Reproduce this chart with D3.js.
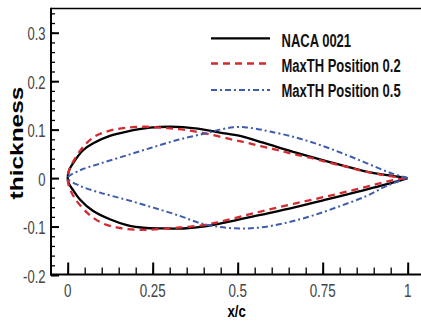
<!DOCTYPE html>
<html>
<head>
<meta charset="utf-8">
<script src="https://cdn.jsdelivr.net/npm/d3@7"></script>
<style>
  html, body { margin: 0; padding: 0; background: #fff; overflow: hidden; }
  svg { display: block; }
</style>
</head>
<body>
<div id="chart"></div>
<script>
// series, [x/c, thickness]
const nacaUpper = [[0,0],[0.004,0.016],[0.016,0.031],[0.046,0.058],[0.075,0.072],[0.124,0.087],[0.174,0.096],[0.242,0.104],[0.30,0.106],[0.34,0.105],[0.40,0.100],[0.448,0.094],[0.507,0.087],[0.575,0.073],[0.674,0.052],[0.771,0.033],[0.869,0.015],[0.94,0.006],[1,0]];
const nacaLower = [[0,0],[0.004,-0.012],[0.016,-0.025],[0.036,-0.044],[0.075,-0.068],[0.124,-0.085],[0.174,-0.097],[0.232,-0.103],[0.30,-0.104],[0.34,-0.104],[0.409,-0.099],[0.468,-0.091],[0.566,-0.076],[0.664,-0.061],[0.762,-0.044],[0.86,-0.027],[0.958,-0.009],[1,0]];
const max02Upper = [[0,0],[0.005,0.018],[0.016,0.034],[0.046,0.065],[0.080,0.086],[0.124,0.098],[0.173,0.104],[0.232,0.106],[0.291,0.103],[0.35,0.099],[0.419,0.090],[0.487,0.079],[0.526,0.073],[0.566,0.066],[0.605,0.060],[0.639,0.054],[0.674,0.048],[0.713,0.042],[0.752,0.035],[0.786,0.029],[0.821,0.023],[0.86,0.016],[0.9,0.010],[0.938,0.005],[1,0]];
const max02Lower = [[0,0],[0.002,-0.012],[0.007,-0.023],[0.026,-0.047],[0.066,-0.077],[0.105,-0.094],[0.154,-0.103],[0.213,-0.107],[0.271,-0.105],[0.33,-0.102],[0.40,-0.097],[0.448,-0.090],[0.516,-0.078],[0.585,-0.066],[0.664,-0.053],[0.742,-0.041],[0.821,-0.028],[0.9,-0.014],[0.958,-0.004],[1,0]];
const max05Upper = [[0,0],[0.036,0.016],[0.095,0.030],[0.174,0.047],[0.252,0.064],[0.33,0.080],[0.409,0.093],[0.448,0.100],[0.487,0.105],[0.52,0.105],[0.56,0.101],[0.595,0.096],[0.654,0.087],[0.713,0.075],[0.771,0.061],[0.83,0.045],[0.889,0.028],[0.948,0.011],[1,0]];
const max05Lower = [[0,0],[0.036,-0.016],[0.095,-0.030],[0.174,-0.045],[0.252,-0.061],[0.33,-0.078],[0.389,-0.093],[0.448,-0.101],[0.507,-0.104],[0.566,-0.102],[0.644,-0.092],[0.722,-0.077],[0.80,-0.058],[0.879,-0.037],[0.938,-0.016],[1,0]];

const seriesNames = ["NACA 0021", "MaxTH Position 0.2", "MaxTH Position 0.5"];
const xTicks = [0, 0.25, 0.5, 0.75, 1];
const xTickLabels = ["0", "0.25", "0.5", "0.75", "1"];
const yTicks = [-0.2, -0.1, 0, 0.1, 0.2, 0.3];
const yTickLabels = ["-0.2", "-0.1", "0", "0.1", "0.2", "0.3"];

const W = 421, H = 322;
const padL = 51, padT = 8.5, axisY = 274.5;
const stretch = 1.36; // text in the picture is taller than wide

const svg = d3.select("#chart").append("svg")
  .attr("width", W)
  .attr("height", H);

const x = d3.scaleLinear().domain([-0.05, 1.05]).range([padL - 0.3, 424.7]);
const y = d3.scaleLinear().domain([-0.2, 0.35]).range([axisY + 0.5, padT]);

// curves
const styles = [
  { color: "#000", dash: null, width: 2.3 },
  { color: "#d42a30", dash: "7,5", width: 2.3 },
  { color: "#3d5cb0", dash: "6,3,2,3", width: 2 }
];
const curves = [
  { up: nacaUpper, lo: nacaLower },
  { up: max02Upper, lo: max02Lower },
  { up: max05Upper, lo: max05Lower }
];

const line = d3.line()
  .x(d => x(d[0]))
  .y(d => y(d[1]))
  .curve(d3.curveCatmullRom.alpha(0.5));

curves.forEach((c, i) => {
  // trailing edge -> upper -> leading edge -> lower -> trailing edge
  const pts = c.up.slice().reverse().concat(c.lo.slice(1));
  svg.append("path")
    .attr("d", line(pts))
    .attr("fill", "none")
    .attr("stroke", styles[i].color)
    .attr("stroke-width", styles[i].width)
    .attr("stroke-dasharray", styles[i].dash);
});

// frame
svg.append("line")
  .attr("x1", padL).attr("x2", W)
  .attr("y1", padT).attr("y2", padT)
  .attr("stroke", "#000").attr("stroke-width", 1.5);

// y axis with inward ticks
const yMinor = d3.range(-0.2, 0.3501, 0.02).map(v => +v.toFixed(2));
svg.append("g")
  .attr("transform", `translate(${padL},0)`)
  .call(d3.axisRight(y).tickValues(yMinor).tickSize(4).tickFormat(""))
  .call(g => g.select(".domain").remove())
  .call(g => g.selectAll("line").attr("stroke", "#000").attr("stroke-width", 1.3));
svg.append("g")
  .attr("transform", `translate(${padL},0)`)
  .call(d3.axisRight(y).tickValues(yTicks).tickSize(8).tickFormat(""))
  .call(g => g.select(".domain").remove())
  .call(g => g.selectAll("line").attr("stroke", "#000").attr("stroke-width", 2));
svg.append("line")
  .attr("x1", padL).attr("x2", padL)
  .attr("y1", padT - 0.75).attr("y2", axisY + 1)
  .attr("stroke", "#000").attr("stroke-width", 2);

// x axis with inward ticks
const xMinor = d3.range(0, 1.0001, 0.05).map(v => +v.toFixed(2));
svg.append("g")
  .attr("transform", `translate(0,${axisY})`)
  .call(d3.axisTop(x).tickValues(xMinor).tickSize(7).tickFormat(""))
  .call(g => g.select(".domain").remove())
  .call(g => g.selectAll("line").attr("stroke", "#000").attr("stroke-width", 1.3));
svg.append("g")
  .attr("transform", `translate(0,${axisY})`)
  .call(d3.axisTop(x).tickValues(xTicks).tickSize(12).tickFormat(""))
  .call(g => g.select(".domain").remove())
  .call(g => g.selectAll("line").attr("stroke", "#000").attr("stroke-width", 2));
svg.append("line")
  .attr("x1", padL - 1).attr("x2", W)
  .attr("y1", axisY).attr("y2", axisY)
  .attr("stroke", "#000").attr("stroke-width", 2);

// tick labels
const tickFont = "'Liberation Sans', Arial, sans-serif";
xTicks.forEach((v, i) => {
  svg.append("text")
    .attr("transform", `translate(${x(v)},296.5) scale(1,1.32)`)
    .attr("text-anchor", "middle")
    .attr("font-family", tickFont)
    .attr("font-size", 13.4)
    .attr("fill", "#444")
    .text(xTickLabels[i]);
});
yTicks.forEach((v, i) => {
  svg.append("text")
    .attr("transform", `translate(45.5,${y(v) + 7.5}) scale(1,${stretch})`)
    .attr("text-anchor", "end")
    .attr("font-family", tickFont)
    .attr("font-size", 13)
    .attr("fill", "#444")
    .text(yTickLabels[i]);
});

// axis titles
svg.append("text")
  .attr("transform", `translate(${x(0.5) - 1},316.5) scale(1,1.25)`)
  .attr("text-anchor", "middle")
  .attr("font-family", tickFont)
  .attr("font-weight", "bold")
  .attr("font-size", 13.2)
  .attr("fill", "#000")
  .text("x/c");

svg.append("text")
  .attr("transform", `translate(22.5,143) scale(1,${stretch}) rotate(-90)`)
  .attr("text-anchor", "middle")
  .attr("font-family", tickFont)
  .attr("font-weight", "bold")
  .attr("font-size", 18)
  .attr("fill", "#000")
  .text("thickness");

// legend
const legY = [38.3, 63.5, 90];
const legBase = [46.7, 71.7, 97.3];
seriesNames.forEach((name, i) => {
  svg.append("line")
    .attr("x1", 211).attr("x2", 270)
    .attr("y1", legY[i]).attr("y2", legY[i])
    .attr("stroke", styles[i].color)
    .attr("stroke-width", styles[i].width)
    .attr("stroke-dasharray", styles[i].dash);
  svg.append("text")
    .attr("transform", `translate(281.5,${legBase[i]}) scale(1,1.42)`)
    .attr("font-family", tickFont)
    .attr("font-weight", "bold")
    .attr("font-size", 13)
    .attr("fill", "#111")
    .text(name);
});
</script>
</body>
</html>
